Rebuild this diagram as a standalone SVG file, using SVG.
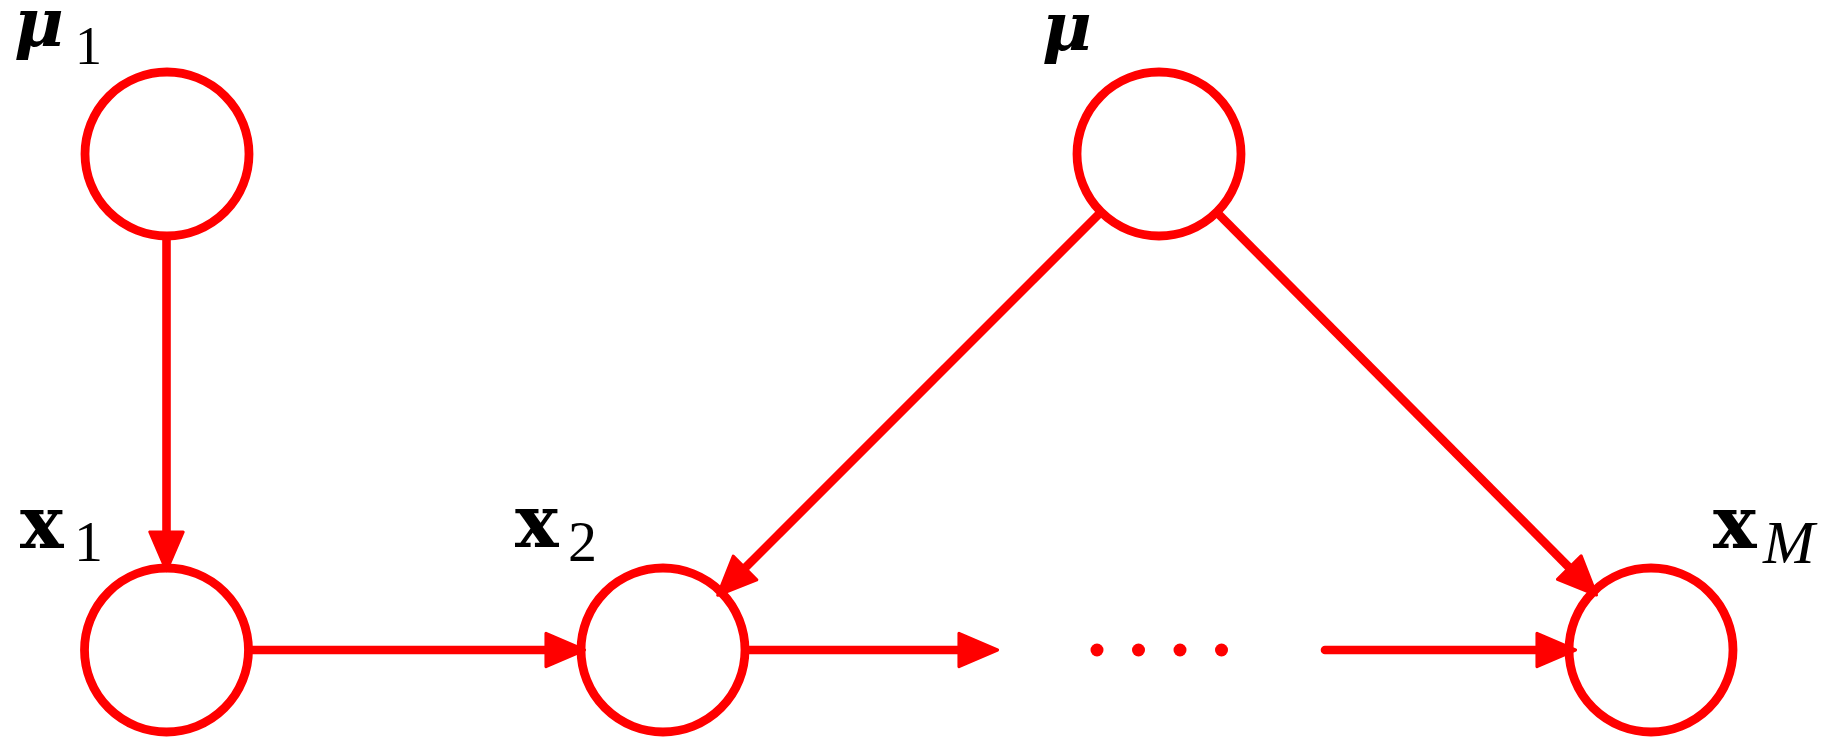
<svg xmlns="http://www.w3.org/2000/svg" width="1842" height="750" viewBox="0 0 1842 750">
<style>
.node{fill:none;stroke:#ff0000;stroke-width:8.8}
.edge{fill:none;stroke:#ff0000;stroke-width:8.6}
.head{fill:#ff0000;stroke:#ff0000;stroke-width:3;stroke-linejoin:round}
.dot{fill:#ff0000}
.bx{font-family:"DejaVu Serif",serif;font-weight:bold;font-size:73px;fill:#000}
.bmu{font-family:"DejaVu Serif",serif;font-weight:bold;font-style:italic;font-size:68px;fill:#000}
.sub{font-family:"Liberation Serif",serif;font-size:58px;fill:#000}
.subi{font-family:"Liberation Serif",serif;font-style:italic;font-size:62px;fill:#000}
</style>
<defs>
<marker id="arr" markerUnits="userSpaceOnUse" markerWidth="50" markerHeight="50" viewBox="-4 -22 48 44" refX="0" refY="0" orient="auto" overflow="visible">
<path class="head" d="M0,-16 L37,0 L0,16 Z"/>
</marker>
</defs>
<g id="connectors">
<line class="edge" x1="166.5" y1="236" x2="166.5" y2="532" marker-end="url(#arr)"/>
<line class="edge" x1="248" y1="650" x2="546" y2="650" marker-end="url(#arr)"/>
<line class="edge" x1="745" y1="650" x2="959" y2="650" marker-end="url(#arr)"/>
<line class="edge" x1="1101" y1="212" x2="745" y2="568" marker-end="url(#arr)"/>
<line class="edge" x1="1216.7" y1="212.2" x2="1569.3" y2="567.6" marker-end="url(#arr)"/>
<line class="edge" x1="1325" y1="650" x2="1537" y2="650" stroke-linecap="round" marker-end="url(#arr)"/>
</g>
<g id="dots">
<circle class="dot" cx="1097" cy="650" r="6.5"/>
<circle class="dot" cx="1138.5" cy="650" r="6.5"/>
<circle class="dot" cx="1180" cy="650" r="6.5"/>
<circle class="dot" cx="1221.5" cy="650" r="6.5"/>
</g>
<g id="node-mu1">
<circle class="node" cx="167" cy="154" r="82"/>
<text x="14" y="46"><tspan class="bmu">μ</tspan><tspan class="sub" x="75" y="64" style="font-size:54px">1</tspan></text>
</g>
<g id="node-mu">
<circle class="node" cx="1159" cy="154" r="82"/>
<text class="bmu" x="1042" y="50">μ</text>
</g>
<g id="node-x1">
<circle class="node" cx="166.5" cy="650" r="82"/>
<text x="20" y="548"><tspan class="bx">x</tspan><tspan class="sub" x="74" y="561">1</tspan></text>
</g>
<g id="node-x2">
<circle class="node" cx="663" cy="650" r="82"/>
<text x="515" y="547"><tspan class="bx">x</tspan><tspan class="sub" x="568" y="561">2</tspan></text>
</g>
<g id="node-xM">
<circle class="node" cx="1651" cy="650" r="82"/>
<text x="1713" y="548"><tspan class="bx">x</tspan><tspan class="subi" x="1763" y="563">M</tspan></text>
</g>
</svg>
